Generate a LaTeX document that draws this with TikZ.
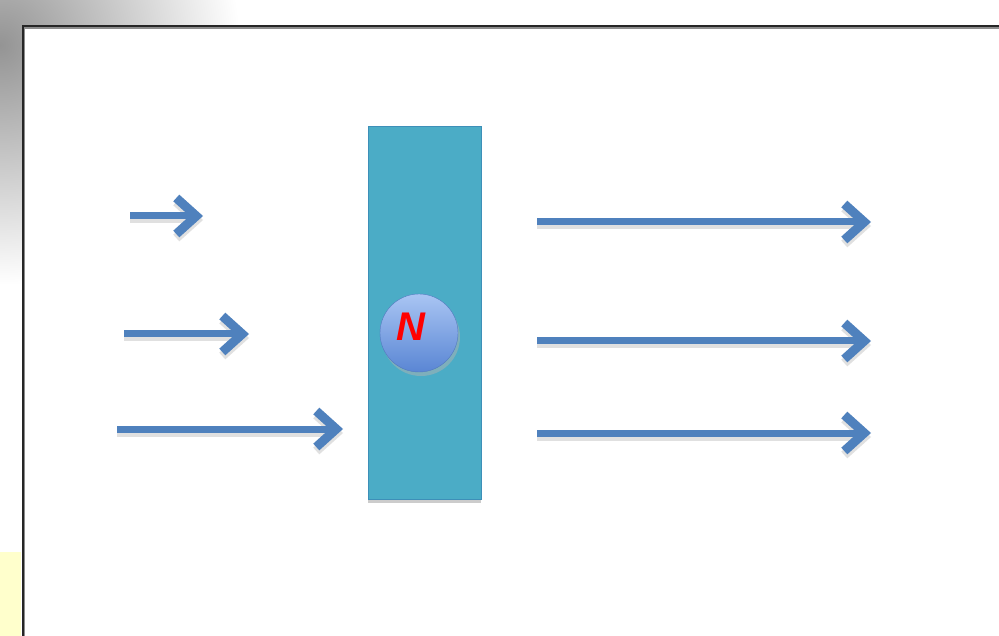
\documentclass[tikz,border=0pt]{standalone}
\usepackage{fontspec}
\setsansfont{Liberation Sans}
\usetikzlibrary{arrows.meta,shadings}

\definecolor{flowblue}{HTML}{4F81BD}
\definecolor{barteal}{HTML}{4BACC6}
\definecolor{baredge}{HTML}{3D8FB8}
\definecolor{notepad}{HTML}{FFFFCC}
\definecolor{balltop}{HTML}{A9C5F3}
\definecolor{ballbot}{HTML}{5A86D4}

\tikzset{
  flowhead/.style={-{Straight Barb[length=20pt,width=36pt,line width=9pt]}},
  flow/.style={line width=7pt, draw=flowblue, flowhead},
  flowshadow/.style={line width=7pt, draw=black!22, opacity=0.55, flowhead},
}

\begin{document}
\begin{tikzpicture}[x=1pt,y=-1pt]
  \useasboundingbox (0,0) rectangle (999,636);
  \fill[white] (0,0) rectangle (999,636);

  % soft grey corner outside the frame
  \begin{scope}
    \clip (0,0) -- (999,0) -- (999,26) -- (22,26) -- (22,636) -- (0,636) -- cycle;
    \shade[inner color=black!42, outer color=white] (0,45) circle (240);
  \end{scope}
  \fill[notepad] (0,552) rectangle (21,636);

  % frame
  \draw[black!45, line width=1.5pt] (24,640) -- (24,28) -- (1003,28);
  \draw[black!85, line width=2pt] (22.5,640) -- (22.5,26.5) -- (1003,26.5);

  % filter bar
  \fill[black!20] (368,131) rectangle (481,503);
  \node[draw=baredge, fill=barteal, line width=1pt, minimum width=113pt,
        minimum height=372pt, inner sep=0pt] (bar) at (424.5,313) {};

  % particle
  \fill[black!30, opacity=0.5] (421,337) circle (39);
  \node[circle, minimum size=78pt, inner sep=0pt, draw=ballbot!90!black,
        top color=balltop, bottom color=ballbot] (ball) at (419,333) {};
  \node[text=red, font=\sffamily\bfseries\itshape\fontsize{40}{40}\selectfont] (lbl)
        at (411,327) {N};

  % incoming flow
  \coordinate (a1) at (130,216); \coordinate (b1) at (203,216);
  \coordinate (a2) at (124,334); \coordinate (b2) at (249,334);
  \coordinate (a3) at (117,429); \coordinate (b3) at (343,429);
  % outgoing flow
  \coordinate (c1) at (537,222); \coordinate (d1) at (871,222);
  \coordinate (c2) at (537,341); \coordinate (d2) at (871,341);
  \coordinate (c3) at (537,433); \coordinate (d3) at (871,433);

  \foreach \s/\e in {a1/b1,a2/b2,a3/b3,c1/d1,c2/d2,c3/d3}{
    \draw[flowshadow] ([shift={(0,4)}]\s) -- ([shift={(0,4)}]\e);
    \draw[flow] (\s) -- (\e);
  }
\end{tikzpicture}
\end{document}
